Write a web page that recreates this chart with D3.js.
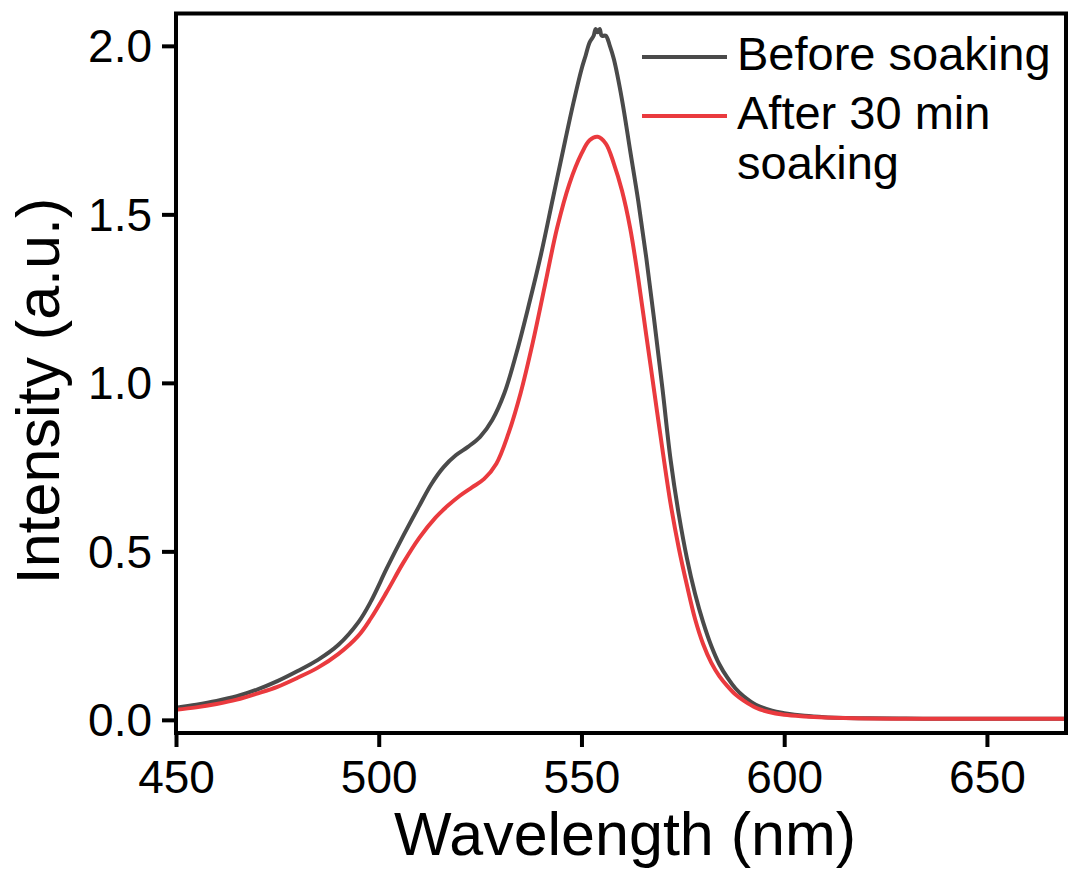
<!DOCTYPE html>
<html>
<head>
<meta charset="utf-8">
<script src="https://cdn.jsdelivr.net/npm/d3@7"></script>
<style>
  html, body { margin: 0; padding: 0; background: #fff; }
  svg { display: block; }
  text { font-family: "Liberation Sans", Arial, sans-serif; fill: #000; }
</style>
</head>
<body>
<svg id="chart" width="1069" height="881"></svg>
<script>
// ---- Data ----
const wavelengthBefore = [450,455,460,465,470,475,480,485,490,495,498,502,506,510,513,516,519,522,525,528,531,534,537,540,543,546,548,550,551,552,553,553.5,554,554.5,555,556,557,558,560,562,564,566,568,570,572,574,576,578,580,582,584,586,588,590,593,597,600,605,610,620,630,640,650,660,669.5];
const intensityBefore  = [0.036,0.045,0.056,0.07,0.09,0.115,0.145,0.178,0.222,0.29,0.35,0.45,0.545,0.635,0.70,0.75,0.785,0.81,0.84,0.89,0.97,1.09,1.23,1.38,1.55,1.72,1.83,1.93,1.97,2.01,2.03,2.05,2.04,2.05,2.03,2.03,2.00,1.96,1.84,1.69,1.54,1.37,1.18,0.98,0.77,0.61,0.48,0.375,0.29,0.22,0.165,0.125,0.093,0.07,0.045,0.027,0.02,0.012,0.008,0.005,0.004,0.003,0.003,0.003,0.003];

const wavelengthAfter = [450,455,460,465,470,475,480,485,490,495,498,502,506,510,514,517,520,523,526,529,532,535,538,541,544,547,550,552,554,556,558,560,562,564,566,568,570,572,574,576,578,580,582,584,586,588,590,593,596,600,605,610,620,630,640,650,660,669.5];
const intensityAfter  = [0.03,0.037,0.047,0.06,0.078,0.098,0.125,0.155,0.195,0.25,0.30,0.38,0.465,0.54,0.60,0.635,0.665,0.69,0.715,0.76,0.85,0.97,1.12,1.29,1.46,1.59,1.68,1.72,1.73,1.71,1.65,1.57,1.46,1.31,1.14,0.97,0.80,0.64,0.51,0.40,0.30,0.225,0.17,0.13,0.10,0.075,0.057,0.036,0.024,0.015,0.01,0.007,0.004,0.003,0.003,0.003,0.003,0.003];

const seriesNames = ["Before soaking", "After 30 min soaking"];
const seriesColors = ["#4a4a4a", "#ea3a3e"];
const xTicks = [450, 500, 550, 600, 650];
const yTicks = [0.0, 0.5, 1.0, 1.5, 2.0];
const xTitle = "Wavelength (nm)";
const yTitle = "Intensity (a.u.)";

// ---- Layout ----
const svg = d3.select("#chart");
const pL = 176, pR = 1066, pT = 13.5, pB = 733;
const x = d3.scaleLinear().domain([450, 669.5]).range([pL, pR]);
const y = d3.scaleLinear().domain([-0.039, 2.096]).range([pB, pT]);

const series = [
  {name: seriesNames[0], color: seriesColors[0], data: wavelengthBefore.map((w, i) => [w, intensityBefore[i]])},
  {name: seriesNames[1], color: seriesColors[1], data: wavelengthAfter.map((w, i) => [w, intensityAfter[i]])}
];

const line = d3.line().x(d => x(d[0])).y(d => y(d[1])).curve(d3.curveCatmullRom.alpha(0.5));

svg.append("defs").append("clipPath").attr("id", "clip")
  .append("rect").attr("x", pL).attr("y", pT).attr("width", pR - pL).attr("height", pB - pT);

svg.append("g").attr("clip-path", "url(#clip)")
  .selectAll("path").data(series).join("path")
  .attr("d", d => line(d.data))
  .attr("fill", "none")
  .attr("stroke", d => d.color)
  .attr("stroke-width", 4)
  .attr("stroke-linejoin", "round");

// Axes
const xAxis = d3.axisBottom(x).tickValues(xTicks).tickFormat(d3.format("d")).tickSize(14).tickSizeOuter(0).tickPadding(10);
const yAxis = d3.axisLeft(y).tickValues(yTicks).tickFormat(d3.format(".1f")).tickSize(14).tickSizeOuter(0).tickPadding(10);

const gx = svg.append("g").attr("transform", `translate(0,${pB})`).call(xAxis);
const gy = svg.append("g").attr("transform", `translate(${pL},0)`).call(yAxis);
[gx, gy].forEach(g => {
  g.select(".domain").remove();
  g.selectAll(".tick line").attr("stroke", "#000").attr("stroke-width", 4);
  g.selectAll(".tick text").attr("font-size", 46).attr("font-family", "Liberation Sans, Arial, sans-serif").attr("fill", "#000");
});
gx.selectAll(".tick text").attr("dy", "0.78em");
gy.selectAll(".tick text").attr("dy", "0.35em");

// Frame
svg.append("rect")
  .attr("x", pL).attr("y", pT)
  .attr("width", pR - pL).attr("height", pB - pT)
  .attr("fill", "none").attr("stroke", "#000").attr("stroke-width", 4);

// Axis titles
svg.append("text")
  .attr("x", (pL + pR) / 2 + 4).attr("y", 855)
  .attr("text-anchor", "middle").attr("font-size", 61)
  .text(xTitle);

svg.append("text")
  .attr("transform", `translate(59,391) rotate(-90)`)
  .attr("text-anchor", "middle").attr("font-size", 61)
  .text(yTitle);

// Legend
const legend = svg.append("g");
const legendRows = [
  {color: seriesColors[0], lines: ["Before soaking"], ly: 57},
  {color: seriesColors[1], lines: ["After 30 min", "soaking"], ly: 116}
];
legendRows.forEach(r => {
  legend.append("line")
    .attr("x1", 642).attr("x2", 727).attr("y1", r.ly).attr("y2", r.ly)
    .attr("stroke", r.color).attr("stroke-width", 4);
  const t = legend.append("text").attr("x", 737).attr("y", r.ly + 13).attr("font-size", 47);
  r.lines.forEach((s, i) => {
    t.append("tspan").attr("x", 737).attr("dy", i === 0 ? 0 : 50).text(s);
  });
});
</script>
</body>
</html>
